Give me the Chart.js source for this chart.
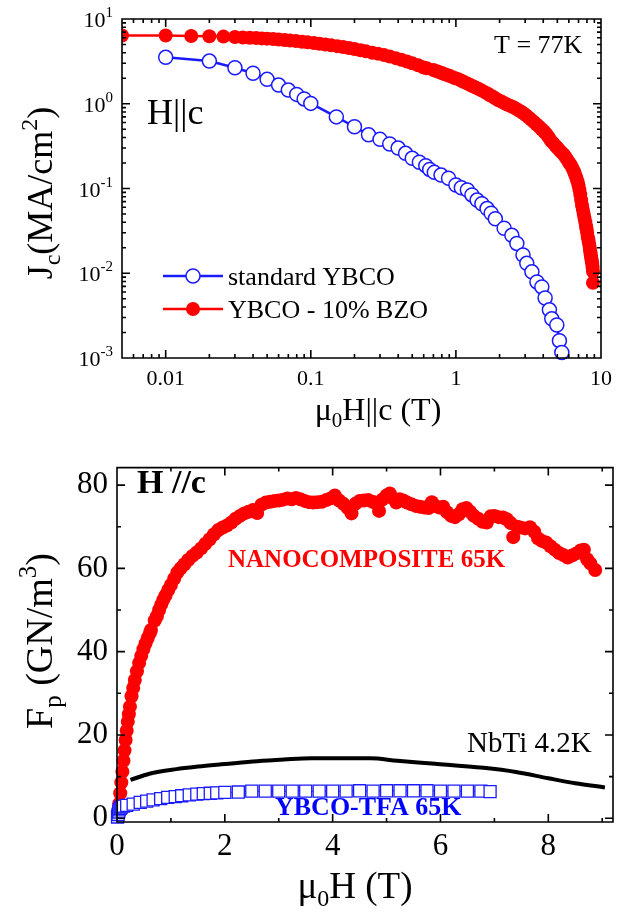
<!DOCTYPE html>
<html>
<head>
<meta charset="utf-8">
<script src="https://cdn.jsdelivr.net/npm/chart.js@4.4.1/dist/chart.umd.min.js"></script>
<style>
  html, body { margin: 0; padding: 0; background: #fff; }
  .panel { position: absolute; left: 0; }
</style>
</head>
<body>
<canvas id="jcChart" class="panel" style="top:0" width="626" height="440"></canvas>
<canvas id="fpChart" class="panel" style="top:440px" width="626" height="473"></canvas>
<script>
// ---- top panel: Jc(H) at 77K, log-log ----
const stdField = [0.01, 0.02, 0.03, 0.04, 0.05, 0.06, 0.07, 0.08, 0.09, 0.1,
  0.15, 0.2, 0.25, 0.3, 0.35, 0.4, 0.45, 0.5, 0.56, 0.62, 0.66, 0.71, 0.79, 0.89, 1.0,
  1.09, 1.2, 1.29, 1.4, 1.51, 1.64, 1.75, 1.87, 2.15, 2.43, 2.63, 2.9, 3.08, 3.34, 3.62, 3.91,
  4.12, 4.41, 4.58, 4.96, 5.17, 5.37];
const stdJc = [3.53, 3.19, 2.66, 2.29, 1.94, 1.66, 1.45, 1.29, 1.14, 1.01,
  0.70, 0.535, 0.43, 0.38, 0.335, 0.3, 0.26, 0.227, 0.204, 0.186, 0.168, 0.155, 0.144, 0.132, 0.11,
  0.102, 0.096, 0.084, 0.073, 0.066, 0.058, 0.051, 0.044, 0.034, 0.028, 0.0225, 0.0164, 0.0131, 0.0104, 0.0079, 0.0069,
  0.0051, 0.0037, 0.0029, 0.00245, 0.0016, 0.00116];

const bzoField = [0.005, 0.01, 0.015, 0.02, 0.025, 0.03, 0.034, 0.038, 0.042, 0.046,
  0.05, 0.055, 0.06, 0.066, 0.072, 0.079, 0.087, 0.095, 0.105, 0.115,
  0.126, 0.138, 0.152, 0.167, 0.183, 0.2, 0.22, 0.24, 0.265, 0.29,
  0.32, 0.35, 0.385, 0.42, 0.46, 0.5, 0.55, 0.6, 0.63, 0.7,
  0.74, 0.77, 0.8, 0.83, 0.87, 0.91, 0.95, 0.99,
  1.04, 1.09, 1.14, 1.2, 1.25, 1.31, 1.37, 1.43, 1.5, 1.57,
  1.65, 1.72, 1.8, 1.88, 1.97, 2.06, 2.15, 2.25, 2.35, 2.45,
  2.55, 2.67, 2.8, 2.92, 3.05, 3.17, 3.3, 3.45, 3.6, 3.75,
  3.9, 4.05, 4.2, 4.35, 4.5, 4.67, 4.85, 5.02, 5.2, 5.37,
  5.55, 5.72, 5.9, 6.05, 6.2, 6.35, 6.5, 6.62, 6.75, 6.88,
  7.0, 7.1, 7.2, 7.3, 7.4, 7.5, 7.6, 7.7, 7.8, 7.88,
  7.95, 8.03, 8.1, 8.18, 8.25, 8.33, 8.4, 8.45, 8.5, 8.55,
  8.6, 8.65, 8.7, 8.75, 8.8, 8.8];
const bzoJc = [6.4, 6.4, 6.3, 6.25, 6.2, 6.12, 6.06, 6.0, 5.95, 5.9,
  5.86, 5.8, 5.74, 5.66, 5.58, 5.5, 5.4, 5.3, 5.2, 5.1,
  5.0, 4.9, 4.78, 4.66, 4.54, 4.42, 4.28, 4.15, 4.0, 3.9,
  3.75, 3.6, 3.45, 3.3, 3.15, 3.0, 2.85, 2.68, 2.62, 2.5,
  2.42, 2.36, 2.3, 2.24, 2.18, 2.12, 2.06, 2.0,
  1.95, 1.87, 1.8, 1.73, 1.67, 1.61, 1.55, 1.5, 1.44, 1.38,
  1.32, 1.26, 1.21, 1.15, 1.1, 1.06, 1.02, 0.98, 0.95, 0.92,
  0.89, 0.85, 0.81, 0.77, 0.73, 0.69, 0.65, 0.61, 0.57, 0.535,
  0.5, 0.47, 0.44, 0.405, 0.37, 0.345, 0.32, 0.3, 0.28, 0.265,
  0.25, 0.232, 0.215, 0.2, 0.19, 0.175, 0.16, 0.148, 0.135, 0.122,
  0.11, 0.097, 0.085, 0.073, 0.063, 0.056, 0.05, 0.045, 0.04, 0.036,
  0.033, 0.03, 0.027, 0.025, 0.023, 0.021, 0.019, 0.0177, 0.0165, 0.0155,
  0.0145, 0.0137, 0.013, 0.0118, 0.0105, 0.0077];

const fieldTicks = [0.01, 0.1, 1, 10];
const jcTicks = [0.001, 0.01, 0.1, 1, 10];

// ---- bottom panel: pinning force at 65K / 4.2K ----
const nanoField = [0.02, 0.04, 0.06, 0.08, 0.1, 0.12, 0.14, 0.16, 0.18, 0.2, 0.22, 0.24, 0.27, 0.3, 0.33,
  0.37, 0.41, 0.45, 0.49, 0.53, 0.57, 0.61, 0.63, 0.7, 0.74, 0.78, 0.82, 0.86, 0.9, 0.95, 1.0, 1.06,
  1.12, 1.18, 1.25, 1.32, 1.4, 1.48, 1.56, 1.64, 1.72, 1.8, 1.88, 1.96, 2.04, 2.12, 2.2, 2.28, 2.36,
  2.44, 2.52, 2.6, 2.68, 2.76, 2.84, 2.92, 3.0, 3.08, 3.16, 3.24, 3.32, 3.4, 3.48, 3.56, 3.64, 3.72,
  3.8, 3.88, 3.96, 4.04, 4.12, 4.2, 4.28, 4.35, 4.42, 4.5, 4.58, 4.66, 4.74, 4.82, 4.86, 4.92, 5.0,
  5.06, 5.12, 5.18, 5.24, 5.31, 5.38, 5.46, 5.54, 5.62, 5.7, 5.78, 5.84, 5.9, 5.98, 6.05, 6.12, 6.2,
  6.27, 6.34, 6.41, 6.48, 6.55, 6.62, 6.7, 6.78, 6.86, 6.93, 7.0, 7.08, 7.16, 7.23, 7.3, 7.35, 7.42,
  7.48, 7.57, 7.66, 7.74, 7.81, 7.88, 7.96, 8.04, 8.12, 8.2, 8.28, 8.36, 8.44, 8.52, 8.6, 8.66, 8.72,
  8.78, 8.87];
const nanoFp = [1.5, 3.5, 6.0, 8.6, 11.2, 13.8, 16.3, 18.8, 21.0, 23.2, 25.0, 26.8, 29.3, 31.3, 33.2,
  35.3, 37.3, 39.0, 40.6, 42.0, 43.3, 44.5, 45.2, 47.5, 48.5, 50.0, 51.3, 52.5, 53.5, 54.8, 56.0, 57.5,
  59.0, 60.0, 61.0, 62.0, 63.0, 63.8, 64.8, 65.9, 67.0, 68.2, 69.2, 69.8, 70.3, 71.0, 71.9, 72.6, 73.2,
  73.6, 74.0, 73.3, 75.3, 75.8, 76.0, 76.2, 76.3, 76.5, 76.8, 76.6, 76.9, 76.6, 76.2, 75.9, 75.8, 75.9,
  76.0, 76.4, 76.8, 77.5, 76.3, 75.5, 74.5, 73.2, 75.5, 76.2, 76.3, 76.4, 76.0, 75.5, 73.8, 76.5, 77.5,
  78.0, 76.8, 75.8, 76.6, 76.3, 75.8, 75.4, 75.0, 74.8, 74.6, 74.5, 75.9, 75.0, 74.6, 74.8, 73.5, 72.6,
  72.3, 73.0, 74.2, 74.5, 73.6, 72.6, 71.9, 71.2, 71.0, 72.5, 72.6, 72.3, 72.2, 71.8, 70.9, 67.5, 70.0,
  69.8, 69.6, 69.9, 68.8, 67.2, 66.6, 66.2, 65.3, 64.5, 63.7, 63.2, 62.6, 63.1, 63.6, 64.3, 64.5, 62.2,
  61.2, 59.6];

const tfaField = [0.01, 0.02, 0.03, 0.04, 0.06, 0.08, 0.12, 0.18, 0.3, 0.43, 0.55, 0.67, 0.81, 0.94,
  1.08, 1.2, 1.34, 1.48, 1.6, 1.73, 1.85, 2.0, 2.25, 2.5, 2.75, 3.0, 3.25, 3.5, 3.75, 4.0, 4.25, 4.5,
  4.75, 5.0, 5.25, 5.5, 5.75, 6.0, 6.25, 6.5, 6.75, 6.92];
const tfaFp = [0.3, 0.9, 1.5, 2.0, 2.4, 2.7, 2.9, 3.1, 3.4, 3.8, 4.1, 4.4, 4.7, 5.0,
  5.2, 5.4, 5.6, 5.8, 5.9, 6.0, 6.1, 6.2, 6.3, 6.5, 6.5, 6.5, 6.5, 6.5, 6.5, 6.5, 6.5, 6.6,
  6.5, 6.6, 6.6, 6.6, 6.6, 6.5, 6.5, 6.5, 6.5, 6.4];

const nbtiField = [0.25, 0.6, 1.1, 1.5, 2.0, 2.6, 3.1, 3.6, 4.2, 4.7, 5.2, 5.9, 6.8, 7.4, 8.0, 8.5, 9.05];
const nbtiFp = [9.2, 10.7, 11.8, 12.4, 13.0, 13.7, 14.1, 14.4, 14.4, 14.4, 13.8, 13.1, 12.1, 11.1, 9.6, 8.4, 7.4];

const fpFieldTicks = [0, 2, 4, 6, 8];
const fpFieldMinor = [1, 3, 5, 7, 9];
const fpTicks = [0, 20, 40, 60, 80];
const fpMinor = [10, 30, 50, 70];

const RED = '#ff0000';
const BLUE = '#1a1aff';
const FONT = '"Liberation Serif", "Times New Roman", serif';

const pts = (xs, ys) => xs.map((x, i) => ({ x: x, y: ys[i] }));

// text with sub/superscripts, drawn piece by piece
function drawRich(ctx, parts, x, y, align, rotate) {
  ctx.save();
  ctx.translate(x, y);
  if (rotate) ctx.rotate(rotate);
  let w = 0;
  parts.forEach(p => {
    ctx.font = (p.bold ? 'bold ' : '') + p.size + 'px ' + FONT;
    w += ctx.measureText(p.t).width;
  });
  let cx = align === 'center' ? -w / 2 : (align === 'right' ? -w : 0);
  ctx.textAlign = 'left';
  ctx.textBaseline = 'alphabetic';
  parts.forEach(p => {
    ctx.font = (p.bold ? 'bold ' : '') + p.size + 'px ' + FONT;
    ctx.fillStyle = p.color || '#000';
    ctx.fillText(p.t, cx, p.dy || 0);
    cx += ctx.measureText(p.t).width;
  });
  ctx.restore();
}

function logMarks(min, max) {
  const out = [];
  for (let e = Math.floor(Math.log10(min)); e <= Math.ceil(Math.log10(max)); e++) {
    for (let m = 1; m <= 9; m++) {
      const v = m * Math.pow(10, e);
      if (v >= min * 0.999 && v <= max * 1.001) out.push({ v: v, major: m === 1 });
    }
  }
  return out;
}

function linMarks(major, minor) {
  return major.map(v => ({ v: v, major: true })).concat(minor.map(v => ({ v: v, major: false })));
}

// box around the plot with inward ticks on all four sides
function drawFrame(chart, xMarks, yMarks) {
  const { ctx, chartArea: a } = chart;
  const xs = chart.scales.x, ys = chart.scales.y;
  ctx.save();
  ctx.strokeStyle = '#000';
  ctx.lineWidth = 1.6;
  ctx.beginPath();
  ctx.rect(a.left, a.top, a.right - a.left, a.bottom - a.top);
  xMarks.forEach(m => {
    const p = xs.getPixelForValue(m.v);
    const len = m.major ? 8 : 4;
    ctx.moveTo(p, a.bottom); ctx.lineTo(p, a.bottom - len);
    ctx.moveTo(p, a.top); ctx.lineTo(p, a.top + len);
  });
  yMarks.forEach(m => {
    const p = ys.getPixelForValue(m.v);
    const len = m.major ? 8 : 4;
    ctx.moveTo(a.left, p); ctx.lineTo(a.left + len, p);
    ctx.moveTo(a.right, p); ctx.lineTo(a.right - len, p);
  });
  ctx.stroke();
  ctx.restore();
}

const jcDecor = {
  id: 'jcDecor',
  afterDraw(chart) {
    const ctx = chart.ctx;
    drawFrame(chart, logMarks(0.005, 10), logMarks(0.001, 10));

    // y tick labels as 10^n
    const ys = chart.scales.y;
    jcTicks.forEach(v => {
      const py = ys.getPixelForValue(v);
      const ex = String(Math.round(Math.log10(v)));
      drawRich(ctx, [{ t: '10', size: 22 }, { t: ex, size: 15, dy: -10 }], 113, py + 8, 'right');
    });

    // legend
    chart.data.datasets.forEach((ds, i) => {
      const ly = [276, 309][i];
      ctx.save();
      ctx.strokeStyle = ds.borderColor;
      ctx.lineWidth = ds.borderWidth;
      ctx.beginPath(); ctx.moveTo(163, ly); ctx.lineTo(223, ly); ctx.stroke();
      ctx.beginPath(); ctx.arc(193, ly, ds.pointRadius, 0, Math.PI * 2);
      ctx.fillStyle = ds.pointBackgroundColor; ctx.fill();
      ctx.lineWidth = ds.pointBorderWidth;
      if (ds.pointBorderWidth > 0) { ctx.strokeStyle = ds.pointBorderColor; ctx.stroke(); }
      ctx.restore();
      drawRich(ctx, [{ t: ds.label, size: 26 }], 228, ly + 9, 'left');
    });

    drawRich(ctx, [{ t: 'T = 77K', size: 26 }], 494, 53, 'left');
    drawRich(ctx, [{ t: 'H||c', size: 36 }], 147, 124, 'left');

    // axis titles
    drawRich(ctx, [{ t: '\u03bc', size: 32 }, { t: '0', size: 21, dy: 7 }, { t: 'H||c (T)', size: 32 }], 378, 420, 'center');
    drawRich(ctx, [{ t: 'J', size: 36 }, { t: 'c', size: 24, dy: 8 }, { t: '(MA/cm', size: 36 },
      { t: '2', size: 24, dy: -15 }, { t: ')', size: 36 }], 52, 193, 'center', -Math.PI / 2);
  }
};

new Chart(document.getElementById('jcChart'), {
  type: 'line',
  data: {
    datasets: [
      {
        label: 'standard YBCO',
        data: pts(stdField, stdJc),
        borderColor: BLUE, borderWidth: 2.5,
        pointRadius: 7, pointBackgroundColor: '#fff', pointBorderColor: BLUE, pointBorderWidth: 1.5,
        clip: 10
      },
      {
        label: 'YBCO - 10% BZO',
        data: pts(bzoField, bzoJc),
        borderColor: RED, borderWidth: 2.5,
        pointRadius: 7, pointBackgroundColor: RED, pointBorderColor: RED, pointBorderWidth: 0
      }
    ]
  },
  options: {
    responsive: false,
    animation: false,
    layout: { padding: { left: 0, top: 19, right: 25, bottom: 0 } },
    plugins: { legend: { display: false }, tooltip: { enabled: false } },
    scales: {
      x: {
        type: 'logarithmic', min: 0.005, max: 10,
        grid: { display: false, drawTicks: false }, border: { display: false },
        afterBuildTicks: s => { s.ticks = fieldTicks.map(v => ({ value: v })); },
        afterFit: s => { s.height = 440 - 358; },
        ticks: { autoSkip: false, maxRotation: 0, padding: 8, color: '#000',
          font: { family: FONT, size: 22 }, callback: v => String(v) }
      },
      y: {
        type: 'logarithmic', min: 0.001, max: 10,
        grid: { display: false, drawTicks: false }, border: { display: false },
        afterBuildTicks: s => { s.ticks = jcTicks.map(v => ({ value: v })); },
        afterFit: s => { s.width = 122; },
        ticks: { display: false }
      }
    }
  },
  plugins: [jcDecor]
});

const fpDecor = {
  id: 'fpDecor',
  afterDraw(chart) {
    const ctx = chart.ctx;
    drawFrame(chart, linMarks(fpFieldTicks, fpFieldMinor), linMarks(fpTicks, fpMinor));

    drawRich(ctx, [{ t: 'H //c', size: 34, bold: true }], 137, 53, 'left');
    drawRich(ctx, [{ t: 'NANOCOMPOSITE 65K', size: 25, bold: true, color: RED }], 228, 127, 'left');
    drawRich(ctx, [{ t: 'NbTi 4.2K', size: 29 }], 467, 312, 'left');
    drawRich(ctx, [{ t: 'YBCO-TFA 65K', size: 26, bold: true, color: '#0000ff' }], 275, 375, 'left');

    drawRich(ctx, [{ t: '\u03bc', size: 37 }, { t: '0', size: 24, dy: 8 }, { t: 'H (T)', size: 37 }], 355, 458, 'center');
    drawRich(ctx, [{ t: 'F', size: 38 }, { t: 'p', size: 25, dy: 9 }, { t: ' (GN/m', size: 38 },
      { t: '3', size: 25, dy: -16 }, { t: ')', size: 38 }], 52, 201, 'center', -Math.PI / 2);
  }
};

new Chart(document.getElementById('fpChart'), {
  type: 'line',
  data: {
    datasets: [
      {
        label: 'YBCO-TFA 65K',
        data: pts(tfaField, tfaFp),
        borderColor: BLUE, borderWidth: 1,
        pointStyle: 'rect', pointRadius: 8.5,
        pointBackgroundColor: '#fff', pointBorderColor: BLUE, pointBorderWidth: 1.3,
        clip: 10
      },
      {
        label: 'NbTi 4.2K',
        data: pts(nbtiField, nbtiFp),
        borderColor: '#000', borderWidth: 4, pointRadius: 0,
        cubicInterpolationMode: 'monotone'
      },
      {
        label: 'NANOCOMPOSITE 65K',
        data: pts(nanoField, nanoFp),
        showLine: false,
        pointRadius: 7, pointBackgroundColor: RED, pointBorderColor: RED, pointBorderWidth: 0,
        clip: 10
      }
    ]
  },
  options: {
    responsive: false,
    animation: false,
    layout: { padding: { left: 0, top: 15, right: 13, bottom: 0 } },
    plugins: { legend: { display: false }, tooltip: { enabled: false } },
    scales: {
      x: {
        type: 'linear', min: 0, max: 9.2,
        grid: { display: false, drawTicks: false }, border: { display: false },
        afterBuildTicks: s => { s.ticks = fpFieldTicks.map(v => ({ value: v })); },
        afterFit: s => { s.height = 473 - 382; },
        ticks: { autoSkip: false, maxRotation: 0, padding: 6, color: '#000',
          font: { family: FONT, size: 31 } }
      },
      y: {
        type: 'linear', min: -0.9, max: 84.2,
        grid: { display: false, drawTicks: false }, border: { display: false },
        afterBuildTicks: s => { s.ticks = fpTicks.map(v => ({ value: v })); },
        afterFit: s => { s.width = 117; },
        ticks: { padding: 9, color: '#000', font: { family: FONT, size: 31 } }
      }
    }
  },
  plugins: [fpDecor]
});
</script>
</body>
</html>
